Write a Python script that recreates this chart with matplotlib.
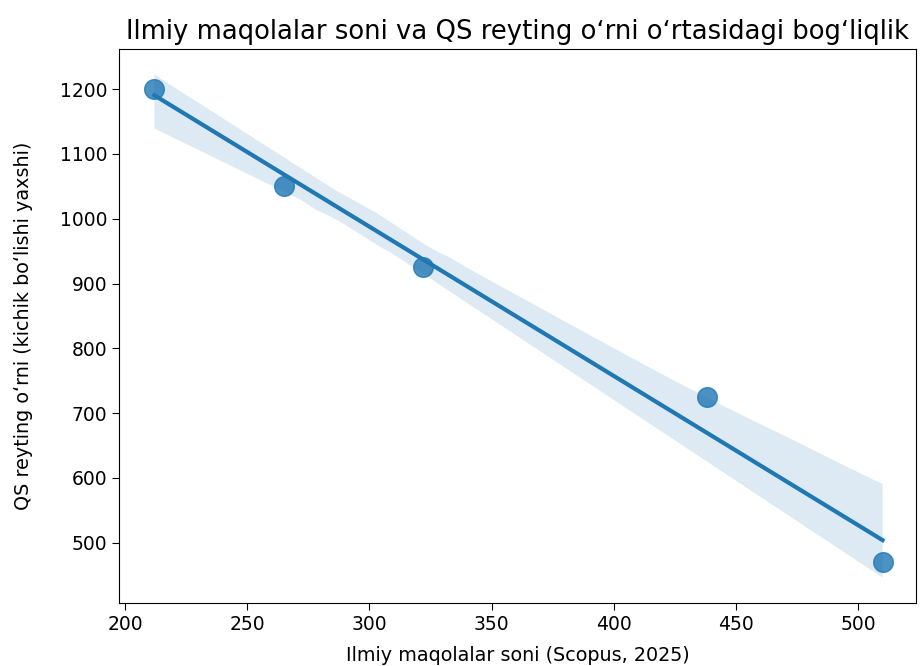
import matplotlib
matplotlib.use("Agg")
from matplotlib import pyplot as plt
import seaborn as sns
import pandas as pd

# data
maqolalar = [212, 265, 322, 438, 510]
qs_orni = [1200, 1050, 925, 725, 470]

df = pd.DataFrame({"maqolalar": maqolalar, "qs": qs_orni})

fig = plt.figure(figsize=(9.21, 6.66), dpi=100)
ax = fig.add_axes([0.1292, 0.0946, 0.8654, 0.8318])

sns.regplot(data=df, x="maqolalar", y="qs", ax=ax, seed=0,
            scatter_kws={"s": 200}, line_kws={"lw": 3})

ax.set_xlim(197.5, 523.7)
ax.set_ylim(407, 1262)
ax.tick_params(labelsize=13.5, length=5)
ax.set_xlabel("Ilmiy maqolalar soni (Scopus, 2025)", fontsize=13.8, labelpad=8.5)
ax.set_ylabel("QS reyting oʻrni (kichik boʻlishi yaxshi)", fontsize=13.8, labelpad=19)
ax.set_title("Ilmiy maqolalar soni va QS reyting oʻrni oʻrtasidagi bogʻliqlik",
             fontsize=18.6, pad=7)

plt.savefig("out.png", dpi=100)
